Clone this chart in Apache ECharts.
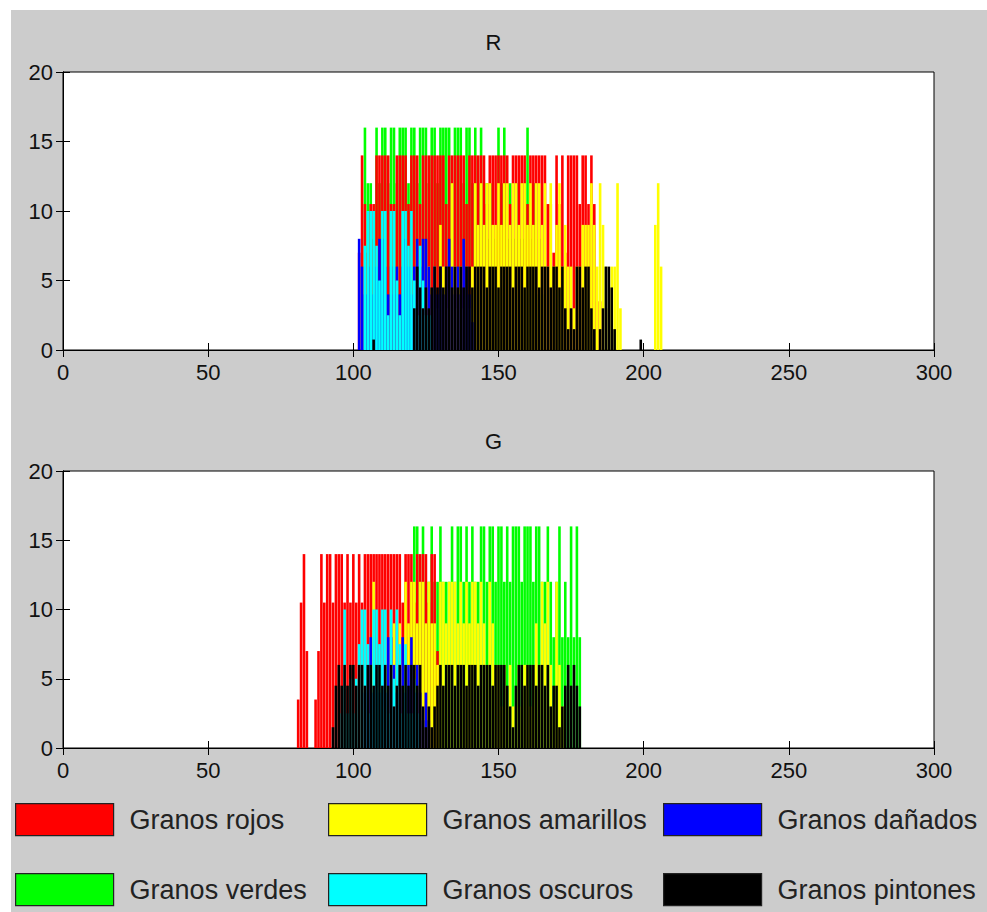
<!DOCTYPE html>
<html>
<head>
<meta charset="utf-8">
<script src="https://cdn.jsdelivr.net/npm/echarts@6/dist/echarts.min.js"></script>
<style>
  html, body { margin: 0; padding: 0; background: #ffffff; }
  #fig { position: absolute; left: 11px; top: 10px; right: 0; bottom: 0; background: #cccccc; }
  #chart { position: absolute; left: 0; top: 0; width: 987px; height: 912px; }
</style>
</head>
<body>
<div id="fig"></div>
<div id="chart"></div>
<script>
// Histogram bins (first bin value + counts-derived heights per bin), channel R
const rRojosStart = 102;
const rRojos = [7,14,10.5,7,10.5,10.5,14,14,14,14,
  14,10.5,10.5,14,14,14,14,10.5,14,14,
  14,10.5,14,14,14,14,14,14,14,14,
  10.5,14,14,14,14,14,14,10.5,14,14,
  14,14,14,14,10.5,14,14,14,14,14,
  14,14,10.5,14,14,14,14,14,10.5,14,
  14,14,14,14,14,10.5,10.5,7,14,10.5,
  14,7,14,14,14,14,10.5,14,14,10.5,
  14,10.5,3.5,3.5];
const rAmarillosStart = 125;
const rAmarillos = [3,6,3,6,3,9,6,3,6,12,
  6,3,6,3,6,3,6,12,9,12,
  9,12,12,9,9,12,9,12,12,9,
  12,12,9,12,12,9,12,9,12,12,
  9,12,6,12,6,9,12,6,9,6,
  6,3,6,6,9,9,9,12,9,6,
  12,9,6,3,6,6,12,3,0,0,
  0,0,0,0,0,0,0,0,0,9,12,6];
const rDanadosStart = 102;
const rDanados = [8,6,4,4,6,4,6,8,8,6,
  4,6,4,6,4,6,8,6,4,6,
  8,6,8,8,6,4,6,4,6,4,
  6,8,6,4,6,4,8,6,4,2];
const rVerdesStart = 104;
const rVerdes = [16,12,12,8,16,12,16,16,12,16,
  16,12,16,16,16,12,16,16,12,16,
  16,16,12,16,16,12,16,16,16,16,
  12,16,16,16,12,16,16,12,16,12,
  16,12,12,8,12,8,16,12,16,8,
  12,8,8,12,8,8,16,8,12,4,8,4];
const rOscurosStart = 104;
const rOscuros = [7.5,10,10,10,7.5,5,10,10,2.5,10,
  10,5,2.5,10,10,7.5,10,5,2.5,7.5,
  5,2.5,2.5,2.5];
const rPintonesStart = 107;
const rPintones = [0.75,0,0,0,0,0,0,0,0,0,0,0,0,0,
  3,6,4.5,3,4.5,3,4.5,6,4.5,6,
  4.5,6,6,4.5,6,4.5,6,4.5,6,6,
  4.5,6,6,6,6,4.5,6,6,6,4.5,
  6,6,6,6,4.5,6,6,6,4.5,6,
  6,6,6,4.5,6,6,6,4.5,6,6,
  4.5,6,3,1.5,3,1.5,6,6,4.5,6,
  6,3,1.5,0,1.5,3,6,6,4.5,1.5,
  0,0,0,0,0,0,0,0,0.75];

// Channel G
const gRojosStart = 81;
const gRojos = [3.5,10.5,14,7,0,0,3.5,7,14,10.5,
  14,14,10.5,14,14,14,10.5,14,10.5,14,
  10.5,14,10.5,14,14,14,14,14,14,14,
  14,14,14,14,14,14,10.5,14,14,14,
  10.5,14,14,14,14,10.5,14,14,7];
const gAmarillosStart = 107;
const gAmarillos = [12,3,6,3,6,3,6,9,6,9,
  6,12,9,12,12,9,12,12,9,12,
  9,9,6,12,12,9,12,12,12,9,
  12,9,12,9,12,12,9,12,9,6,
  12,9,6,6,3,6,3,6,3,3,
  6,3,6,6,3,6,9,6,12,9,
  12,6,3,12,6,3];
const gDanadosStart = 104;
const gDanados = [4,6,8,4,6,4,6,4,8,8,
  6,4,6,8,4,6,8,4,6,4,
  2,4,2];
const gVerdesStart = 119;
const gVerdes = [8,12,16,16,12,16,12,12,16,12,
  12,16,12,12,12,16,12,16,16,12,
  16,12,16,12,12,16,16,12,16,16,
  12,16,16,12,16,12,16,16,16,12,
  16,16,16,12,16,16,12,12,16,12,
  8,12,16,8,12,8,16,8,16,8];
const gOscurosStart = 96;
const gOscuros = [2.5,10,2.5,5,2.5,5,7.5,10,10,7.5,
  2.5,10,10,7.5,10,10,2.5,10,5,10,
  7.5,2.5,7.5,2.5,2.5,5,2.5];
const gPintonesStart = 93;
const gPintones = [1.5,4.5,6,4.5,6,4.5,6,6,4.5,6,
  6,4.5,6,6,4.5,6,6,4.5,6,4.5,
  6,3,4.5,6,4.5,6,4.5,6,6,4.5,
  6,3,1.5,3,1.5,3,4.5,6,4.5,6,
  6,6,4.5,6,6,6,4.5,6,6,6,
  4.5,6,6,6,6,4.5,6,6,6,6,
  4.5,3,1.5,4.5,6,6,4.5,6,6,6,
  4.5,6,6,4.5,6,3,4.5,4.5,1.5,3,
  4.5,6,4.5,6,4.5,3];

const xTicks = [0, 50, 100, 150, 200, 250, 300];
const yTicks = [0, 5, 10, 15, 20];
const panelTitles = ['R', 'G'];
const legendNames = ['Granos rojos', 'Granos amarillos', 'Granos dañados',
                     'Granos verdes', 'Granos oscuros', 'Granos pintones'];
const seriesColors = {
  'Granos rojos': '#ff0000', 'Granos amarillos': '#ffff00', 'Granos dañados': '#0000ff',
  'Granos verdes': '#00ff00', 'Granos oscuros': '#00ffff', 'Granos pintones': '#000000'
};

function pairs(start, arr) {
  const out = [];
  arr.forEach((h, i) => { if (h > 0) out.push([start + i, h]); });
  return out;
}

const FONT = 'Liberation Sans';
const panels = [
  { top: 72, height: 278, data: {
      'Granos verdes': pairs(rVerdesStart, rVerdes),
      'Granos rojos': pairs(rRojosStart, rRojos),
      'Granos amarillos': pairs(rAmarillosStart, rAmarillos),
      'Granos dañados': pairs(rDanadosStart, rDanados),
      'Granos oscuros': pairs(rOscurosStart, rOscuros),
      'Granos pintones': pairs(rPintonesStart, rPintones) } },
  { top: 471, height: 277, data: {
      'Granos verdes': pairs(gVerdesStart, gVerdes),
      'Granos rojos': pairs(gRojosStart, gRojos),
      'Granos amarillos': pairs(gAmarillosStart, gAmarillos),
      'Granos dañados': pairs(gDanadosStart, gDanados),
      'Granos oscuros': pairs(gOscurosStart, gOscuros),
      'Granos pintones': pairs(gPintonesStart, gPintones) } }
];
// drawing order, bottom to top
const drawOrder = ['Granos verdes', 'Granos rojos', 'Granos amarillos',
                   'Granos dañados', 'Granos oscuros', 'Granos pintones'];

const grid = [], xAxis = [], yAxis = [], series = [], title = [];
panels.forEach((p, k) => {
  grid.push({ left: 63, top: p.top, width: 871, height: p.height, show: true,
              backgroundColor: '#ffffff', borderColor: '#000', borderWidth: 1 });
  title.push({ text: panelTitles[k], left: 'center', top: p.top - 41, padding: 0,
               textStyle: { fontFamily: FONT, fontSize: 22, fontWeight: 'normal', color: '#111' } });
  // main axes with labels
  xAxis.push({ gridIndex: k, type: 'value', min: xTicks[0], max: xTicks[xTicks.length - 1], interval: 50,
    axisLine: { lineStyle: { color: '#000' } }, splitLine: { show: false },
    axisTick: { inside: true, length: 7, lineStyle: { color: '#000' } },
    axisLabel: { fontFamily: FONT, fontSize: 22, color: '#111', margin: 11 } });
  yAxis.push({ gridIndex: k, type: 'value', min: yTicks[0], max: yTicks[yTicks.length - 1], interval: 5,
    axisLine: { show: true, lineStyle: { color: '#000' } }, splitLine: { show: false },
    axisTick: { show: true, inside: true, length: 7, lineStyle: { color: '#000' } },
    axisLabel: { fontFamily: FONT, fontSize: 22, color: '#111', margin: 10 } });
  // mirrored tick marks on top and right edges of the box
  xAxis.push({ gridIndex: k, type: 'value', position: 'top', min: 0, max: 300, interval: 50,
    axisLine: { show: true, lineStyle: { color: '#000' } }, splitLine: { show: false },
    axisTick: { inside: true, length: 7, lineStyle: { color: '#000' } }, axisLabel: { show: false } });
  yAxis.push({ gridIndex: k, type: 'value', position: 'right', min: 0, max: 20, interval: 5,
    axisLine: { show: true, lineStyle: { color: '#000' } }, splitLine: { show: false },
    axisTick: { show: true, inside: true, length: 7, lineStyle: { color: '#000' } }, axisLabel: { show: false } });
  drawOrder.forEach((name, j) => {
    series.push({ type: 'bar', name: name, xAxisIndex: 2 * k, yAxisIndex: 2 * k,
      data: p.data[name], barWidth: 2.6, barGap: '-100%', z: 2 + j,
      itemStyle: { color: seriesColors[name] }, animation: false, silent: true });
  });
});

// two legend rows of three entries
const legendPos = [[15, 803], [328, 803], [663, 803], [15, 873], [328, 873], [663, 873]];
const legend = legendNames.map((name, i) => ({
  data: [name], left: legendPos[i][0], top: legendPos[i][1], orient: 'horizontal', padding: 0,
  icon: 'rect', itemWidth: 98, itemHeight: 32, selectedMode: false,
  itemStyle: { borderColor: '#222', borderWidth: 1.2 },
  textStyle: { fontFamily: FONT, fontSize: 27, color: '#222', padding: [0, 0, 0, 11] }
}));

const chart = echarts.init(document.getElementById('chart'), null, { renderer: 'svg', width: 987, height: 912 });
chart.setOption({ animation: false, backgroundColor: 'transparent', title, grid, xAxis, yAxis, series, legend });
</script>
</body>
</html>
